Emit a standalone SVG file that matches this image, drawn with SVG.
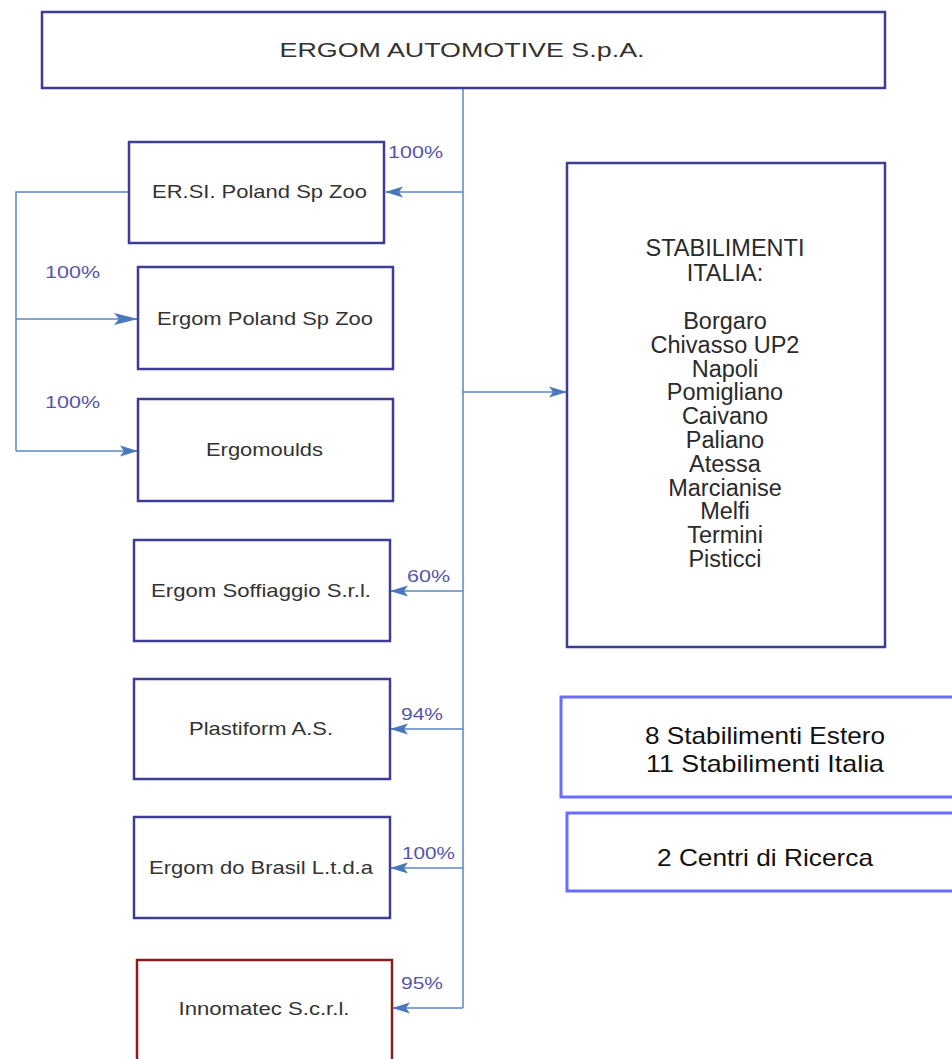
<svg xmlns="http://www.w3.org/2000/svg" width="952" height="1059" viewBox="0 0 952 1059">
<style>
.box{fill:#fff;stroke:#3d3d98;stroke-width:2.5}
.red{fill:#fff;stroke:#8a1c1c;stroke-width:2.5}
.sum{fill:#fff;stroke:#6b6bff;stroke-width:3}
.t{font-family:"Liberation Sans",Arial,sans-serif;fill:#333;text-anchor:middle}
.n{font-size:19px}
.pct{font-family:"Liberation Sans",Arial,sans-serif;font-size:17px;fill:#5656a8}
.lst{font-size:23.5px;fill:#2a2a2a}
.big{font-size:24px;fill:#111}
.c{fill:none;stroke:#5b86c4;stroke-width:1.5}
</style>
<defs>
<marker id="ah" markerUnits="userSpaceOnUse" markerWidth="18" markerHeight="12" refX="17" refY="6" orient="auto">
<path d="M0,0.5 L18,6 L0,11.5 L4,6 z" fill="#4a78bd"/>
</marker>
<marker id="ahl" markerUnits="userSpaceOnUse" markerWidth="24" markerHeight="13" refX="23" refY="6.5" orient="auto">
<path d="M0,0.5 L24,6.5 L0,12.5 L5,6.5 z" fill="#4a78bd"/>
</marker>
</defs>
<rect width="952" height="1059" fill="#fff"/>
<g id="connectors">
<path class="c" d="M463,88 V1008"/>
<path class="c" d="M463,192 H386" marker-end="url(#ah)"/>
<path class="c" d="M463,392 H566" marker-end="url(#ah)"/>
<path class="c" d="M463,591 H391" marker-end="url(#ah)"/>
<path class="c" d="M463,729 H391" marker-end="url(#ah)"/>
<path class="c" d="M463,868 H391" marker-end="url(#ah)"/>
<path class="c" d="M463,1008 H393" marker-end="url(#ah)"/>
<path class="c" d="M129,192 H16 V451"/>
<path class="c" d="M16,319 H137" marker-end="url(#ahl)"/>
<path class="c" d="M16,451 H137" marker-end="url(#ah)"/>
<text class="pct" x="388" y="158" textLength="55" lengthAdjust="spacingAndGlyphs">100%</text>
<text class="pct" x="45" y="278" textLength="55" lengthAdjust="spacingAndGlyphs">100%</text>
<text class="pct" x="45" y="408" textLength="55" lengthAdjust="spacingAndGlyphs">100%</text>
<text class="pct" x="407" y="582" textLength="43" lengthAdjust="spacingAndGlyphs">60%</text>
<text class="pct" x="401" y="720" textLength="42" lengthAdjust="spacingAndGlyphs">94%</text>
<text class="pct" x="402" y="859" textLength="53" lengthAdjust="spacingAndGlyphs">100%</text>
<text class="pct" x="401" y="989" textLength="42" lengthAdjust="spacingAndGlyphs">95%</text>
</g>
<g id="ergom-automotive">
<rect class="box" x="42" y="12" width="843" height="76"/>
<text class="t" x="462" y="57" font-size="19.5" textLength="365" lengthAdjust="spacingAndGlyphs">ERGOM AUTOMOTIVE S.p.A.</text>
</g>
<g id="ersi-poland">
<rect class="box" x="129" y="142" width="255" height="101"/>
<text class="t n" x="259.5" y="198" textLength="215" lengthAdjust="spacingAndGlyphs">ER.SI. Poland Sp Zoo</text>
</g>
<g id="ergom-poland">
<rect class="box" x="138" y="267" width="255" height="102"/>
<text class="t n" x="265" y="325" textLength="216" lengthAdjust="spacingAndGlyphs">Ergom Poland Sp Zoo</text>
</g>
<g id="ergomoulds">
<rect class="box" x="138" y="399" width="255" height="102"/>
<text class="t n" x="264.5" y="456" textLength="117" lengthAdjust="spacingAndGlyphs">Ergomoulds</text>
</g>
<g id="ergom-soffiaggio">
<rect class="box" x="134" y="540" width="256" height="101"/>
<text class="t n" x="261" y="597" textLength="220" lengthAdjust="spacingAndGlyphs">Ergom Soffiaggio S.r.l.</text>
</g>
<g id="plastiform">
<rect class="box" x="134" y="679" width="256" height="100"/>
<text class="t n" x="261" y="735" textLength="144" lengthAdjust="spacingAndGlyphs">Plastiform A.S.</text>
</g>
<g id="ergom-brasil">
<rect class="box" x="134" y="817" width="256" height="101"/>
<text class="t n" x="261" y="874" textLength="224" lengthAdjust="spacingAndGlyphs">Ergom do Brasil L.t.d.a</text>
</g>
<g id="innomatec">
<rect class="red" x="137" y="960" width="255" height="110"/>
<text class="t n" x="264" y="1015" textLength="171" lengthAdjust="spacingAndGlyphs">Innomatec S.c.r.l.</text>
</g>
<g id="stabilimenti-italia">
<rect class="box" x="567" y="163" width="318" height="484"/>
<text class="t lst" x="725" y="256">STABILIMENTI</text>
<text class="t lst" x="725" y="281">ITALIA:</text>
<text class="t lst" x="725" y="329">Borgaro</text>
<text class="t lst" x="725" y="352.8">Chivasso UP2</text>
<text class="t lst" x="725" y="376.6">Napoli</text>
<text class="t lst" x="725" y="400.4">Pomigliano</text>
<text class="t lst" x="725" y="424.2">Caivano</text>
<text class="t lst" x="725" y="448">Paliano</text>
<text class="t lst" x="725" y="471.8">Atessa</text>
<text class="t lst" x="725" y="495.6">Marcianise</text>
<text class="t lst" x="725" y="519.4">Melfi</text>
<text class="t lst" x="725" y="543.2">Termini</text>
<text class="t lst" x="725" y="567">Pisticci</text>
</g>
<g id="stabilimenti-summary">
<rect class="sum" x="561" y="697" width="400" height="100"/>
<text class="t big" x="765" y="743.5" textLength="240" lengthAdjust="spacingAndGlyphs">8 Stabilimenti Estero</text>
<text class="t big" x="765" y="771.5" textLength="238" lengthAdjust="spacingAndGlyphs">11 Stabilimenti Italia</text>
</g>
<g id="centri-ricerca">
<rect class="sum" x="567" y="813" width="400" height="78"/>
<text class="t big" x="765" y="866" textLength="216" lengthAdjust="spacingAndGlyphs">2 Centri di Ricerca</text>
</g>
</svg>
